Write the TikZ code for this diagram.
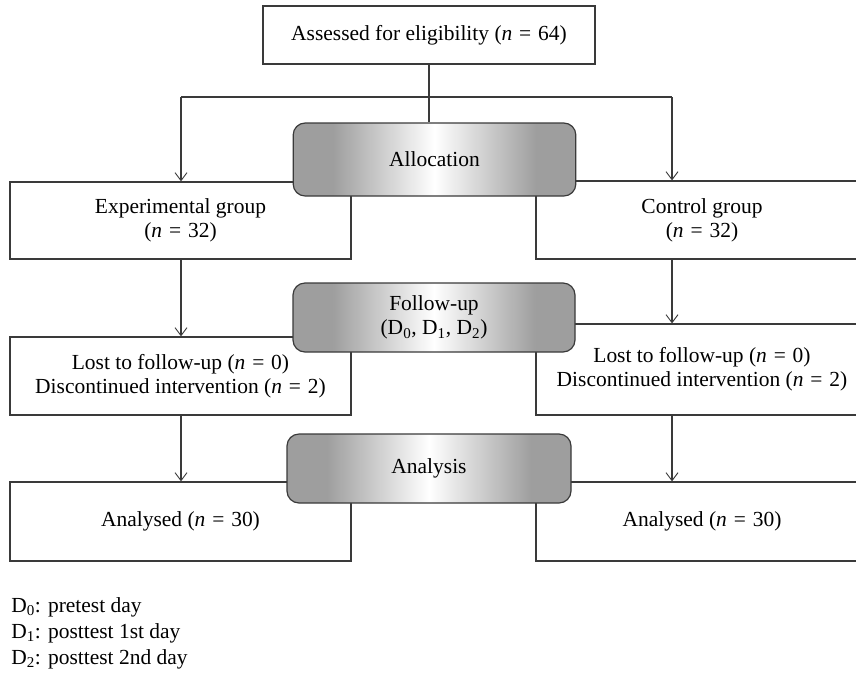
\documentclass[tikz,border=0pt]{standalone}
\usepackage{fontspec}
\setmainfont{Liberation Serif}
\usetikzlibrary{arrows.meta}
\definecolor{linec}{HTML}{3A3A3A}
\definecolor{bandgray}{HTML}{9E9E9E}
\pgfdeclarehorizontalshading{bandshade}{100bp}{color(0bp)=(bandgray); color(25bp)=(bandgray); color(32bp)=(bandgray); color(50bp)=(white); color(68bp)=(bandgray); color(75bp)=(bandgray); color(100bp)=(bandgray)}
\newcommand\nval[1]{(\textit{n}\hspace{0.32em}=\hspace{0.32em}#1)}
\tikzset{
  box/.style={draw=linec, line width=0.9pt, fill=white, rectangle, align=center, inner sep=0pt},
  phase/.style={draw=linec, line width=0.9pt, rectangle, rounded corners=9pt, shade, shading=bandshade, align=center, inner sep=0pt, minimum width=212pt},
  conn/.style={draw=linec, line width=0.8pt},
  arr/.style={conn, -{Straight Barb[length=6pt, width=9pt, line width=0.7pt]}},
  txt/.style={font=\fontsize{16.1}{18}\selectfont}
}
\begin{document}
\begin{tikzpicture}[x=0.75pt, y=-0.75pt, every node/.style={txt}]
\useasboundingbox (0,0) rectangle (856,676);
\clip (0,0) rectangle (856,676);
% rectangles
\node[box, minimum width=249pt, minimum height=43.5pt] (top) at (429,35) {Assessed for eligibility \nval{64}};
\node[box, minimum width=255.75pt, minimum height=57.75pt] (exp) at (180.5,220.5) {Experimental group\\\nval{32}};
\node[box, minimum width=249pt, minimum height=58.5pt] (ctrl) at (702,220) {Control group\\\nval{32}};
\node[box, minimum width=255.75pt, minimum height=58.5pt] (lostL) at (180.5,376) {Lost to follow-up \nval{0}\\Discontinued intervention \nval{2}};
\node[box, minimum width=249pt, minimum height=68.25pt] (lostR) at (702,369.5) {Lost to follow-up \nval{0}\\Discontinued intervention \nval{2}};
\node[box, minimum width=255.75pt, minimum height=59.25pt] (anL) at (180.5,521.5) {Analysed \nval{30}};
\node[box, minimum width=249pt, minimum height=59.25pt] (anR) at (702,521.5) {Analysed \nval{30}};
% connector coordinates
\coordinate (hl) at (181,97);
\coordinate (hr) at (672,97);
% phases
\node[phase, minimum height=54.75pt] (alloc) at (434.5,159.5) {Allocation};
\node[phase, minimum width=211.5pt, minimum height=51.75pt] (fu) at (434,317.5) {Follow-up\\(D\textsubscript{0}, D\textsubscript{1}, D\textsubscript{2})};
\node[phase, minimum width=213pt, minimum height=51.75pt] (ana) at (429,468.5) {Analysis};
% connectors
\draw[conn] (top.south) -- (top.south |- alloc.north);
\draw[conn] (hl) -- (hr);
\draw[arr] (hl) -- (exp.north -| hl);
\draw[arr] (hr) -- (ctrl.north -| hr);
\draw[arr] (exp.south -| hl) -- (lostL.north -| hl);
\draw[arr] (ctrl.south -| hr) -- (lostR.north -| hr);
\draw[arr] (lostL.south -| hl) -- (anL.north -| hl);
\draw[arr] (lostR.south -| hr) -- (anR.north -| hr);
% legend
\node[anchor=west, align=left, font=\fontsize{16.1}{19.5}\selectfont, inner sep=0pt] (legend) at (11,633) {D\textsubscript{0}: pretest day\\D\textsubscript{1}: posttest 1st day\\D\textsubscript{2}: posttest 2nd day};
\end{tikzpicture}
\end{document}
